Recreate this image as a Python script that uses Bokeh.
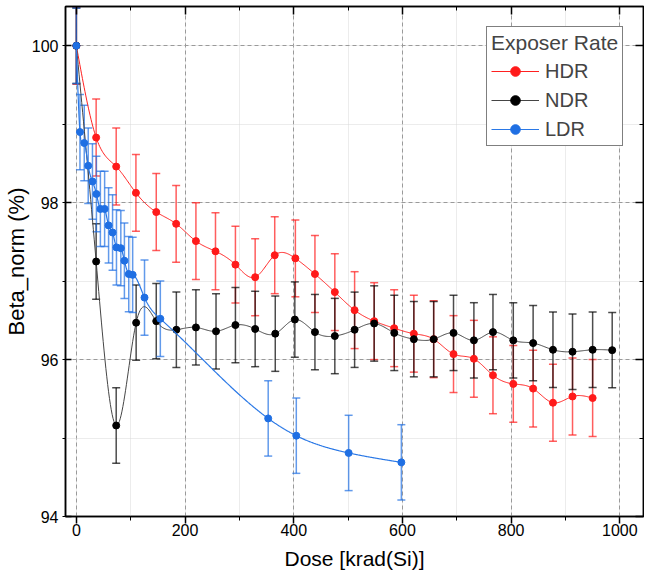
import numpy as np
from bokeh.plotting import figure
from bokeh.models import (ColumnDataSource, Whisker, TeeHead, Range1d, LinearAxis,
                          SingleIntervalTicker, Legend, LegendItem, CustomJSTickFormatter)
from bokeh.embed import file_html
from bokeh.resources import INLINE

# ---------------- data ----------------
hdr_dose = [0, 36.4, 73.3, 109.6, 147, 183.6, 220, 256, 292.7, 329, 365, 403, 439,
            475.6, 512, 548, 584.8, 621, 657.5, 694, 731.5, 766.6, 804, 840.5, 877, 913, 950]
hdr_beta = [100, 98.83, 98.46, 98.125, 97.88, 97.73, 97.51, 97.38, 97.21, 97.05, 97.33, 97.29, 97.09,
            96.86, 96.63, 96.49, 96.40, 96.33, 96.26, 96.07, 96.01, 95.80, 95.69, 95.63, 95.45, 95.53, 95.51]
hdr_err = [0.49] * len(hdr_dose)

ndr_dose = [0, 36.4, 73.3, 110, 147, 184, 220, 257, 292.7, 329, 366, 402, 439,
            475.6, 512, 548, 585, 621, 657.5, 694, 731.5, 766.6, 804, 840.5, 877, 913, 950, 986]
ndr_beta = [100, 97.25, 95.16, 96.47, 96.49, 96.38, 96.41, 96.36, 96.44, 96.39, 96.33, 96.51, 96.35,
            96.30, 96.38, 96.46, 96.34, 96.26, 96.26, 96.34, 96.245, 96.35, 96.245, 96.21, 96.125, 96.10, 96.125, 96.12]
ndr_err = [0.48] * len(ndr_dose)

ldr_dose = [0, 6.6, 14.5, 21.8, 29.6, 36.9, 44.2, 52, 59.3, 66.6, 73.8, 81.8, 88.4, 96.4, 103.6,
            125.4, 154.5, 353, 404.7, 501, 598]
ldr_beta = [100, 98.90, 98.76, 98.47, 98.27, 98.11, 97.92, 97.92, 97.71, 97.62, 97.43, 97.42, 97.26,
            97.09, 97.08, 96.79, 96.52, 95.25, 95.03, 94.81, 94.69]
ldr_err = [0.48] * len(ldr_dose)

series_names = ["HDR", "NDR", "LDR"]
legend_title = "Exposer Rate"
x_label = "Dose [krad(Si)]"
y_label = "Beta_norm (%)"

FONT = "Liberation Sans"


def natural_spline(x, y, n=600):
    x = np.asarray(x, float)
    y = np.asarray(y, float)
    m = len(x)
    h = np.diff(x)
    A = np.zeros((m, m))
    b = np.zeros(m)
    A[0, 0] = 1
    A[-1, -1] = 1
    for i in range(1, m - 1):
        A[i, i - 1] = h[i - 1]
        A[i, i] = 2 * (h[i - 1] + h[i])
        A[i, i + 1] = h[i]
        b[i] = 6 * ((y[i + 1] - y[i]) / h[i] - (y[i] - y[i - 1]) / h[i - 1])
    M = np.linalg.solve(A, b)
    xs = np.linspace(x[0], x[-1], n)
    idx = np.clip(np.searchsorted(x, xs) - 1, 0, m - 2)
    x0 = x[idx]
    x1 = x[idx + 1]
    hh = x1 - x0
    a = (x1 - xs) / hh
    bb = (xs - x0) / hh
    ys = a * y[idx] + bb * y[idx + 1] + ((a ** 3 - a) * M[idx] + (bb ** 3 - bb) * M[idx + 1]) * hh ** 2 / 6
    return xs, ys


p = figure(width=644, height=577, output_backend="svg", toolbar_location=None,
           x_range=Range1d(-20, 1043.6), y_range=Range1d(94, 100.5),
           min_border_left=58, min_border_right=1, min_border_top=6, min_border_bottom=61)
p.outline_line_color = "black"
p.outline_line_width = 1.5
p.background_fill_color = "white"
p.border_fill_color = "white"

xt = SingleIntervalTicker(interval=200, num_minor_ticks=2)
yt = SingleIntervalTicker(interval=2, num_minor_ticks=2)

p.xaxis.ticker = xt
p.yaxis.ticker = yt
for ax in (p.xaxis[0], p.yaxis[0]):
    ax.axis_line_width = 1.5
    ax.axis_line_color = "black"
    ax.major_tick_line_width = 1.5
    ax.minor_tick_line_width = 1
    ax.major_label_text_font = FONT
    ax.major_label_text_font_size = "16px"
    ax.major_label_text_color = "black"
    ax.axis_label_text_font = FONT
    ax.axis_label_text_font_style = "normal"
    ax.axis_label_text_color = "black"

p.xaxis.axis_label = x_label
p.xaxis.axis_label_text_font_size = "21px"
p.xaxis.major_tick_out = 7
p.xaxis.major_tick_in = 0
p.xaxis.minor_tick_out = 4
p.xaxis.minor_tick_in = 0
p.xaxis.major_label_standoff = 0
p.xaxis.axis_label_standoff = 8

p.yaxis.axis_label = y_label
p.yaxis.axis_label_text_font_size = "22px"
p.yaxis.major_tick_out = 0
p.yaxis.major_tick_in = 6
p.yaxis.minor_tick_out = 3
p.yaxis.minor_tick_in = 0
p.yaxis.major_label_standoff = 4
p.yaxis.axis_label_standoff = 0

blank = CustomJSTickFormatter(code="return ''")
top_ax = LinearAxis(ticker=SingleIntervalTicker(interval=200, num_minor_ticks=2),
                    formatter=blank, major_label_standoff=0,
                    major_tick_in=8, major_tick_out=0, minor_tick_in=4, minor_tick_out=0,
                    axis_line_width=1.5, major_tick_line_width=1.5)
right_ax = LinearAxis(ticker=SingleIntervalTicker(interval=2, num_minor_ticks=2),
                      formatter=blank, major_label_standoff=0,
                      major_tick_in=8, major_tick_out=0, minor_tick_in=4, minor_tick_out=0,
                      axis_line_width=1.5, major_tick_line_width=1.5)
p.add_layout(top_ax, "above")
p.add_layout(right_ax, "right")

p.xgrid.ticker = xt
p.ygrid.ticker = yt
for g in (p.xgrid[0], p.ygrid[0]):
    g.grid_line_color = "#9a9a9a"
    g.grid_line_dash = "4 3"
    g.grid_line_width = 1
    g.minor_grid_line_color = "#d8d8d8"
    g.minor_grid_line_dash = "1 1"
    g.minor_grid_line_width = 1

styles = [
    (hdr_dose, hdr_beta, hdr_err, "#ff1a1a", "#ff2020", 1.0),
    (ndr_dose, ndr_beta, ndr_err, "#000000", "#454545", 1.0),
    (ldr_dose, ldr_beta, ldr_err, "#1f6fe3", "#2a78e6", 1.2),
]

items = []
for name, (dx, dy, de, mcol, lcol, lw) in zip(series_names, styles):
    xs, ys = natural_spline(dx, dy)
    lr = p.line(xs, ys, line_color=lcol, line_width=lw)
    src = ColumnDataSource(dict(x=dx, y=dy,
                                lo=[v - e for v, e in zip(dy, de)],
                                hi=[v + e for v, e in zip(dy, de)]))
    w = Whisker(source=src, base="x", upper="hi", lower="lo", dimension="height",
                line_color=mcol, line_width=1.5, line_alpha=0.7,
                upper_head=TeeHead(size=8, line_color=mcol, line_width=1.5, line_alpha=0.7),
                lower_head=TeeHead(size=8, line_color=mcol, line_width=1.5, line_alpha=0.7))
    p.add_layout(w)
    sr = p.scatter("x", "y", source=src, size=7, fill_color=mcol, line_color=mcol)
    items.append(LegendItem(label=name, renderers=[lr, sr]))

legend = Legend(items=items, location=(421, 370), title=legend_title,
                title_text_font=FONT, title_text_font_size="21px", title_text_font_style="normal",
                title_standoff=4,
                label_text_font=FONT, label_text_font_size="20px",
                glyph_width=48, glyph_height=24, label_height=24, label_standoff=6,
                spacing=5, padding=4, margin=0,
                border_line_color="black", border_line_width=1,
                background_fill_color="white", background_fill_alpha=1)
p.add_layout(legend, "center")

open("out.html", "w").write(file_html(p, INLINE))
